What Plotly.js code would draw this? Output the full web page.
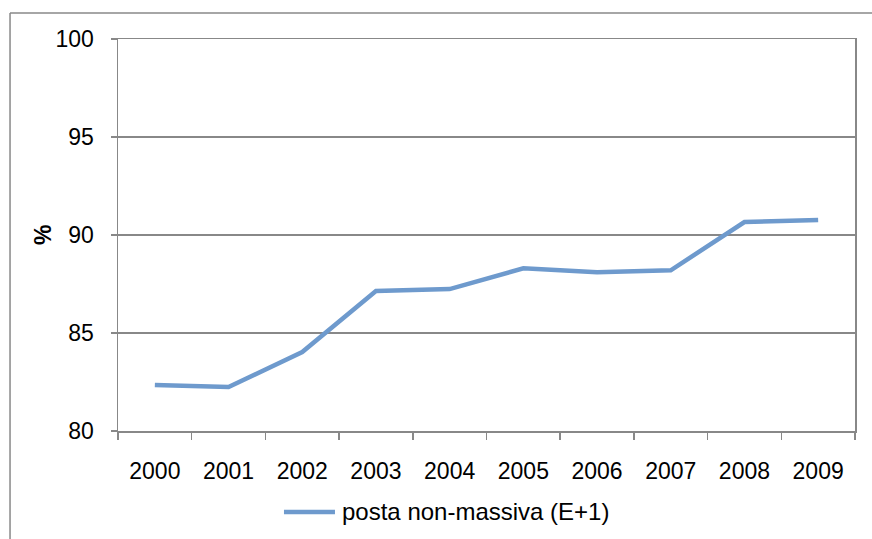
<!DOCTYPE html>
<html>
<head>
<meta charset="utf-8">
<script src="https://cdn.plot.ly/plotly-3.0.1.min.js"></script>
<style>
html,body{margin:0;padding:0;background:#fff;}
#chart{width:872px;height:539px;}
</style>
</head>
<body>
<div id="chart"></div>
<script>
const years = ['2000','2001','2002','2003','2004','2005','2006','2007','2008','2009'];
const values = [82.35, 82.24, 84.03, 87.14, 87.24, 88.3, 88.1, 88.2, 90.66, 90.77];
const seriesName = 'posta non-massiva (E+1)';
const yTitle = '%';
const yTicks = [80, 85, 90, 95, 100];

const lineColor = 'rgb(110,154,205)';
const trace = {
  x: years,
  y: values,
  type: 'scatter',
  mode: 'lines',
  name: seriesName,
  line: {color: lineColor, width: 4.5},
  showlegend: false
};

const layout = {
  width: 872,
  height: 539,
  margin: {l: 118, r: 17, t: 39, b: 108, autoexpand: false},
  paper_bgcolor: '#fff',
  plot_bgcolor: '#fff',
  font: {family: 'Liberation Sans, Arial, sans-serif', size: 23, color: '#000'},
  showlegend: false,
  xaxis: {
    type: 'category',
    range: [-0.5, 9.5],
    tickson: 'boundaries',
    ticks: 'outside',
    ticklen: 7,
    tickcolor: '#888',
    tickwidth: 1.5,
    showline: true,
    linecolor: '#888',
    linewidth: 1.5,
    mirror: true,
    showgrid: false,
    zeroline: false,
    automargin: false,
    ticklabelstandoff: 19,
    tickfont: {size: 23}
  },
  yaxis: {
    range: [80, 100],
    tickvals: yTicks,
    ticks: 'outside',
    ticklen: 6,
    tickcolor: '#888',
    tickwidth: 1.5,
    showline: true,
    linecolor: '#888',
    linewidth: 1.5,
    mirror: true,
    showgrid: true,
    gridcolor: '#888',
    gridwidth: 1.5,
    zeroline: false,
    automargin: false,
    ticklabelstandoff: 12,
    tickfont: {size: 23}
  },
  annotations: [
    {text: '<b>' + yTitle + '</b>', xref: 'paper', yref: 'paper', x: -0.1018, y: 0.5,
     xanchor: 'center', yanchor: 'middle', textangle: -90, showarrow: false, font: {size: 23}},
    {text: seriesName, xref: 'paper', yref: 'paper', x: 0.3012, y: -0.2066,
     xanchor: 'left', yanchor: 'middle', showarrow: false, font: {size: 24}}
  ],
  shapes: [
    {type: 'line', xref: 'paper', yref: 'paper', x0: 0.2252, x1: 0.2944, y0: -0.2066, y1: -0.2066, line: {color: lineColor, width: 4.5}},
    {type: 'line', xref: 'paper', yref: 'paper', x0: -0.1465, x1: 1.03, y0: 1.0663, y1: 1.0663, line: {color: '#888', width: 1.5}},
    {type: 'line', xref: 'paper', yref: 'paper', x0: -0.1465, x1: -0.1465, y0: 1.0663, y1: -0.3, line: {color: '#888', width: 1.5}}
  ]
};

Plotly.newPlot('chart', [trace], layout, {displayModeBar: false, staticPlot: true});
</script>
</body>
</html>
